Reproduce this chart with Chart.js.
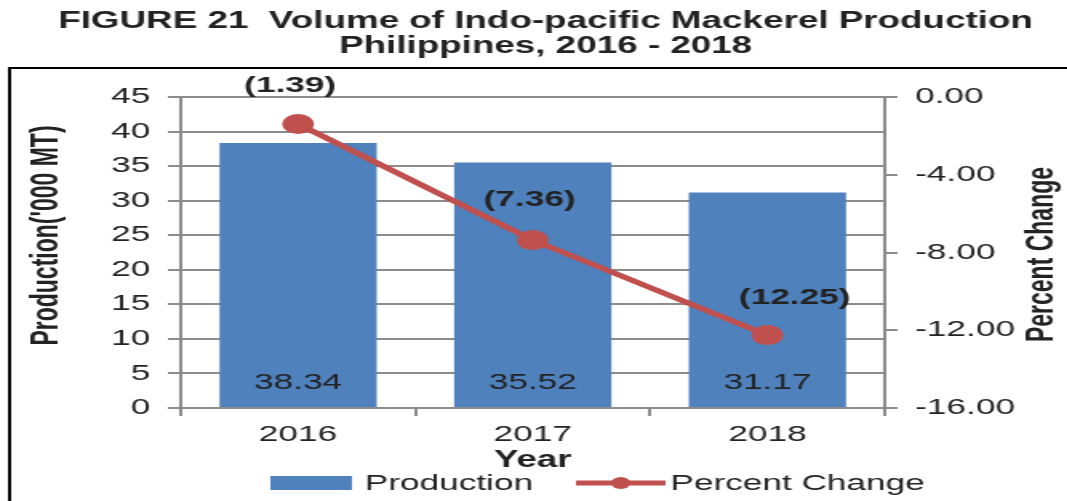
<!DOCTYPE html>
<html>
<head>
<meta charset="utf-8">
<script src="https://cdn.jsdelivr.net/npm/chart.js@4.4.1/dist/chart.umd.min.js"></script>
<style>
  html, body { margin: 0; padding: 0; background: #fff; overflow: hidden; }
  #wrap { width: 667px; height: 501px; transform: scaleX(1.6); transform-origin: 0 0; }
</style>
</head>
<body>
<div id="wrap"><canvas id="mackerelChart" width="667" height="501"></canvas></div>
<script>
const years = ["2016", "2017", "2018"];
const production = [38.34, 35.52, 31.17];
const percentChange = [-1.39, -7.36, -12.25];
const changeLabels = ["(1.39)", "(7.36)", "(12.25)"];
const changeLabelShift = [[-5, -38], [-2, -40], [17, -37]];

const FONT = "'Liberation Sans', Arial, sans-serif";
const GRID = "#8c8c8c";
const TEXT = "#222";

// title, frame, axis titles, value labels and legend
const extras = {
  id: "extras",
  beforeDraw(chart) {
    const ctx = chart.ctx;
    ctx.save();
    ctx.strokeStyle = "#000";
    ctx.lineWidth = 2;
    ctx.strokeRect(6, 68, 700, 500);
    ctx.fillStyle = TEXT;
    ctx.font = "bold 23px " + FONT;
    ctx.textAlign = "center";
    ctx.textBaseline = "middle";
    ctx.fillText("FIGURE 21  Volume of Indo-pacific Mackerel Production", 341, 22);
    ctx.fillText("Philippines, 2016 - 2018", 341, 47);
    ctx.restore();
  },
  afterDatasetsDraw(chart) {
    const ctx = chart.ctx;
    const area = chart.chartArea;
    const lineMeta = chart.getDatasetMeta(0);
    const barMeta = chart.getDatasetMeta(1);
    ctx.save();
    ctx.fillStyle = TEXT;
    ctx.textAlign = "center";
    ctx.textBaseline = "middle";

    // production values inside bars
    ctx.font = "22px " + FONT;
    barMeta.data.forEach((bar, i) => {
      ctx.fillText(production[i].toFixed(2), bar.x, area.bottom - 25);
    });

    // percent change labels above points
    ctx.font = "bold 22px " + FONT;
    lineMeta.data.forEach((pt, i) => {
      ctx.fillText(changeLabels[i], pt.x + changeLabelShift[i][0], pt.y + changeLabelShift[i][1]);
    });

    // axis titles
    ctx.font = "bold 23px " + FONT;
    ctx.save();
    ctx.translate(30, (area.top + area.bottom) / 2 - 17);
    ctx.rotate(-Math.PI / 2);
    ctx.fillText("Production('000 MT)", 0, 0);
    ctx.restore();
    ctx.save();
    ctx.translate(652, (area.top + area.bottom) / 2 + 2);
    ctx.rotate(-Math.PI / 2);
    ctx.fillText("Percent Change", 0, 0);
    ctx.restore();
    ctx.fillText("Year", (area.left + area.right) / 2, 461);

    // legend
    const ly = 483;
    ctx.fillStyle = "#4F81BD";
    ctx.fillRect(169, ly - 7, 51, 14);
    ctx.fillStyle = TEXT;
    ctx.font = "22px " + FONT;
    ctx.textAlign = "left";
    ctx.fillText("Production", 228, ly + 1);
    ctx.strokeStyle = "#C0504D";
    ctx.lineWidth = 5;
    ctx.beginPath();
    ctx.moveTo(360, ly);
    ctx.lineTo(416, ly);
    ctx.stroke();
    ctx.fillStyle = "#C0504D";
    ctx.beginPath();
    ctx.arc(388, ly, 6, 0, Math.PI * 2);
    ctx.fill();
    ctx.fillStyle = TEXT;
    ctx.fillText("Percent Change", 419, ly + 1);
    ctx.restore();
  }
};

new Chart(document.getElementById("mackerelChart"), {
  data: {
    labels: years,
    datasets: [
      {
        type: "line",
        label: "Percent Change",
        data: percentChange,
        yAxisID: "y2",
        borderColor: "#C0504D",
        backgroundColor: "#C0504D",
        borderWidth: 5,
        pointRadius: 10,
        pointBorderWidth: 0,
        order: 0
      },
      {
        type: "bar",
        label: "Production",
        data: production,
        yAxisID: "y",
        backgroundColor: "#4F81BD",
        barPercentage: 0.67,
        categoryPercentage: 1,
        order: 1
      }
    ]
  },
  options: {
    responsive: false,
    animation: false,
    layout: { padding: { top: 97, left: 0, right: 0, bottom: 0 } },
    plugins: {
      legend: { display: false },
      title: { display: false },
      tooltip: { enabled: false }
    },
    scales: {
      x: {
        offset: true,
        grid: { display: true, drawOnChartArea: false, color: GRID, lineWidth: 2, tickLength: 8, offset: true },
        border: { color: GRID, width: 2 },
        ticks: { color: TEXT, font: { family: FONT, size: 22 }, padding: 6 },
        afterFit: (s) => { s.height = 93; }
      },
      y: {
        position: "left",
        min: 0,
        max: 45,
        ticks: { stepSize: 5, color: TEXT, font: { family: FONT, size: 22 }, padding: 11 },
        grid: { color: GRID, lineWidth: 2, tickLength: 8 },
        border: { color: GRID, width: 2 },
        afterFit: (s) => { s.width = 113; }
      },
      y2: {
        position: "right",
        min: -16,
        max: 0,
        ticks: {
          stepSize: 4,
          color: TEXT,
          font: { family: FONT, size: 22 },
          padding: 11,
          callback: (v) => v.toFixed(2)
        },
        grid: { drawOnChartArea: false, color: GRID, lineWidth: 2, tickLength: 8 },
        border: { color: GRID, width: 2 },
        afterFit: (s) => { s.width = 114; }
      }
    }
  },
  plugins: [extras]
});
</script>
</body>
</html>
